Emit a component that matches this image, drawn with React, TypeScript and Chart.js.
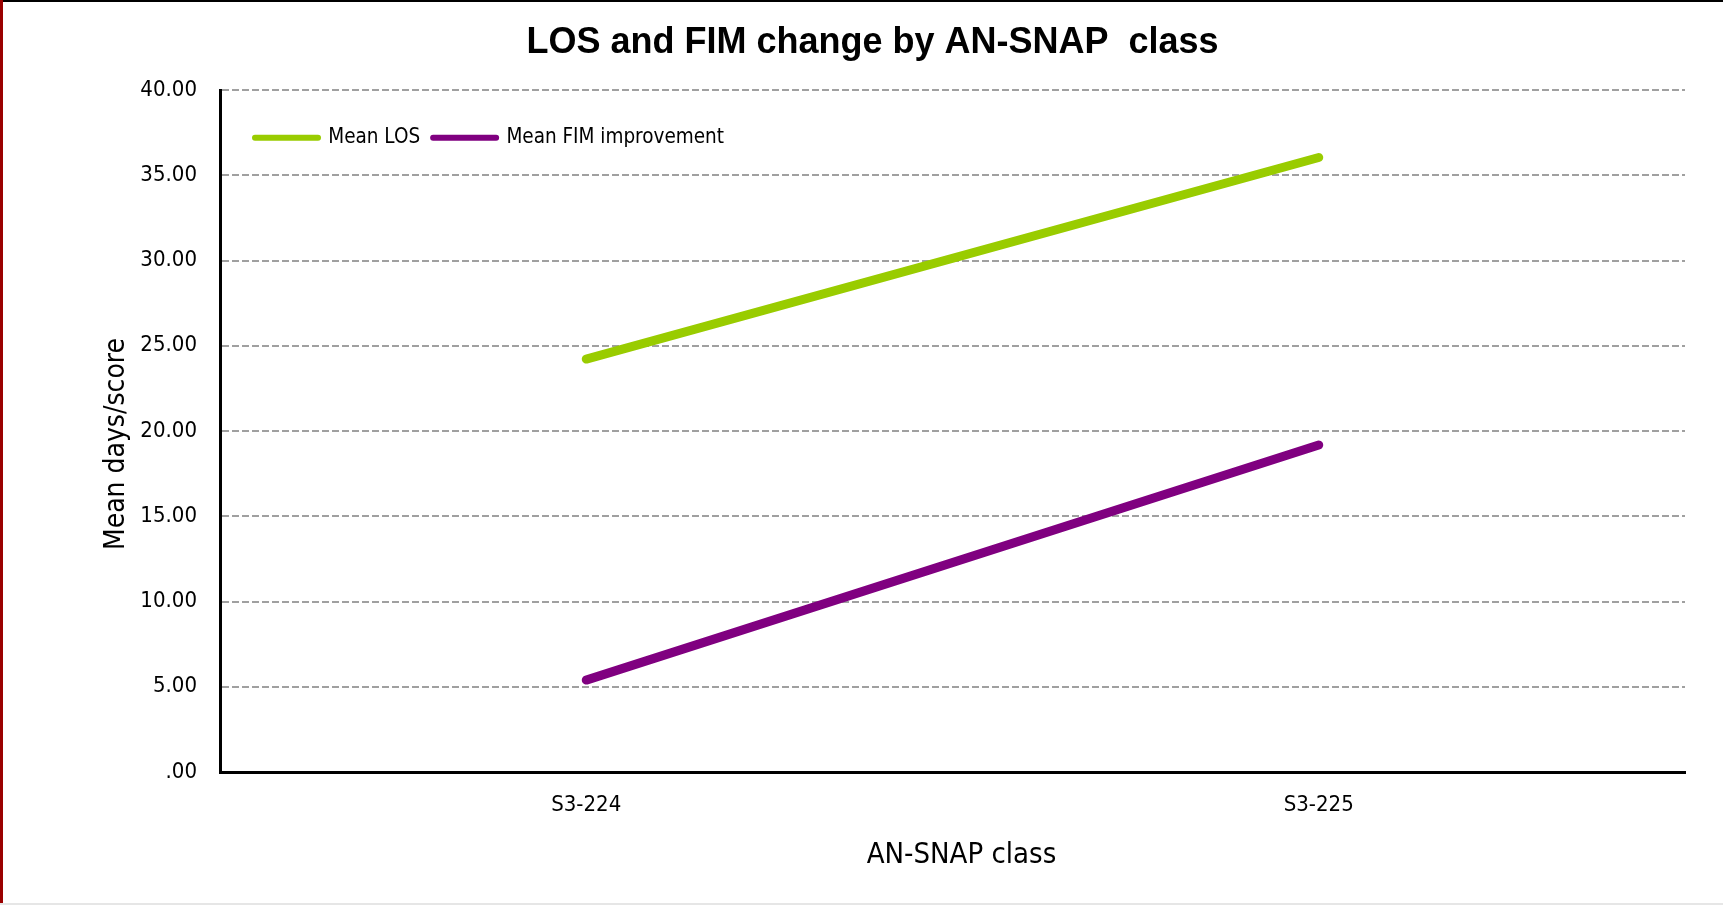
import React, { useEffect, useRef } from 'react';
import { Chart, registerables } from 'chart.js';

Chart.register(...registerables);

// ---- data ----
const categories: string[] = ['S3-224', 'S3-225'];
const meanLOS: number[] = [24.22, 36.04];
const meanFIM: number[] = [5.39, 19.18];
const seriesLabels: string[] = ['Mean LOS', 'Mean FIM improvement'];
const seriesColors: string[] = ['#99cc00', '#800080'];
const yTickLabels: string[] = ['.00', '5.00', '10.00', '15.00', '20.00', '25.00', '30.00', '35.00', '40.00'];
const chartTitle = 'LOS and FIM change by AN-SNAP  class';
const xAxisTitle = 'AN-SNAP class';
const yAxisTitle = 'Mean days/score';

const NARROW = "'Liberation Sans Narrow', 'Arial Narrow', 'DejaVu Sans Condensed', sans-serif";
const SANS = "'Liberation Sans', Arial, sans-serif";

const W = 1723;
const H = 905;
const PLOT_TOP = 90;

const titlesPlugin = {
  id: 'titles',
  afterDraw(chart: any) {
    const ctx = chart.ctx;
    const ca = chart.chartArea;
    ctx.save();
    ctx.fillStyle = '#000';
    ctx.textAlign = 'center';
    ctx.textBaseline = 'middle';
    // main title
    ctx.font = `bold 36px ${SANS}`;
    ctx.fillText(chartTitle, chart.width / 2 + 11, 43);
    // x axis title
    ctx.font = `29px ${NARROW}`;
    ctx.fillText(xAxisTitle, (ca.left + ca.right) / 2 + 9, 855);
    // y axis title
    ctx.translate(117, (ca.top + ca.bottom) / 2 + 13);
    ctx.rotate(-Math.PI / 2);
    ctx.font = `28px ${NARROW}`;
    ctx.fillText(yAxisTitle, 0, 0);
    ctx.restore();
  },
};

const legendPlace = {
  id: 'legendPlace',
  afterLayout(chart: any) {
    const lg = chart.legend;
    const ca = chart.chartArea;
    if (lg && ca) {
      const w = lg.width;
      const h = lg.height;
      lg.left = ca.left + 22;
      lg.right = lg.left + w;
      lg.top = ca.top + 24.5;
      lg.bottom = lg.top + h;
    }
  },
};

export default function App() {
  const canvasRef = useRef<HTMLCanvasElement | null>(null);

  useEffect(() => {
    const canvas = canvasRef.current;
    if (!canvas) return;
    const legendFontSize = 20.5;
    const legendPadding = 13;
    const lineDataset = (i: number, data: number[]) => ({
      label: seriesLabels[i],
      data,
      borderColor: seriesColors[i],
      backgroundColor: seriesColors[i],
      borderWidth: 9,
      borderCapStyle: 'round',
      borderJoinStyle: 'round',
      pointRadius: 0,
      pointHoverRadius: 0,
      tension: 0,
      fill: false,
    });
    const chart: any = new Chart(canvas, {
      type: 'line',
      data: {
        labels: categories,
        datasets: [lineDataset(0, meanLOS), lineDataset(1, meanFIM)],
      },
      options: {
        responsive: false,
        maintainAspectRatio: false,
        animation: false,
        devicePixelRatio: 1,
        layout: { padding: { top: 43, right: 38, bottom: 0, left: 0 } },
        plugins: {
          title: { display: false },
          tooltip: { enabled: false },
          legend: {
            position: 'top',
            align: 'start',
            labels: {
              usePointStyle: true,
              pointStyle: 'line',
              pointStyleWidth: 63,
              padding: legendPadding,
              color: '#000',
              font: { family: NARROW, size: legendFontSize },
              generateLabels: (c: any) =>
                Chart.defaults.plugins.legend.labels
                  .generateLabels(c)
                  .map((l: any) => ({ ...l, lineWidth: 6, lineCap: 'round', pointStyle: 'line' })),
            },
          },
        },
        scales: {
          x: {
            type: 'category',
            offset: true,
            grid: { display: false, drawTicks: false },
            border: { display: true, color: '#000', width: 3 },
            ticks: { color: '#000', padding: 20, font: { family: NARROW, size: 22 } },
            title: { display: false },
            afterFit: (s: any) => {
              s.height = 133;
            },
          },
          y: {
            type: 'linear',
            min: 0,
            max: 40,
            ticks: {
              stepSize: 5,
              color: '#000',
              padding: 23,
              font: { family: NARROW, size: 22 },
              callback: (_v: any, i: number) => yTickLabels[i],
            },
            grid: { color: '#a0a0a0', lineWidth: 2, drawTicks: false },
            border: { display: true, color: '#000', width: 3, dash: [7, 3] },
            title: { display: false },
            afterFit: (s: any) => {
              s.width = 220;
            },
          },
        },
      },
      plugins: [titlesPlugin, legendPlace],
    } as any);
    // make the plot area start exactly at PLOT_TOP regardless of legend box height
    const diff = PLOT_TOP - chart.chartArea.top;
    if (Math.abs(diff) > 0.01) {
      chart.options.layout.padding.top = chart.options.layout.padding.top + diff;
      chart.update();
    }
    return () => chart.destroy();
  }, []);

  return (
    <div style={{ position: 'fixed', left: 0, top: 0, width: W, height: H, background: '#fff', overflow: 'hidden' }}>
      <canvas ref={canvasRef} width={W} height={H} style={{ position: 'absolute', left: 0, top: 0, width: W, height: H }} />
      <div style={{ position: 'absolute', left: 0, top: 0, width: W, height: 2, background: '#000' }} />
      <div style={{ position: 'absolute', left: 0, top: 0, width: 3, height: H, background: '#9a0000' }} />
      <div style={{ position: 'absolute', left: 0, top: H - 2, width: W, height: 2, background: '#e6e6e6' }} />
    </div>
  );
}
